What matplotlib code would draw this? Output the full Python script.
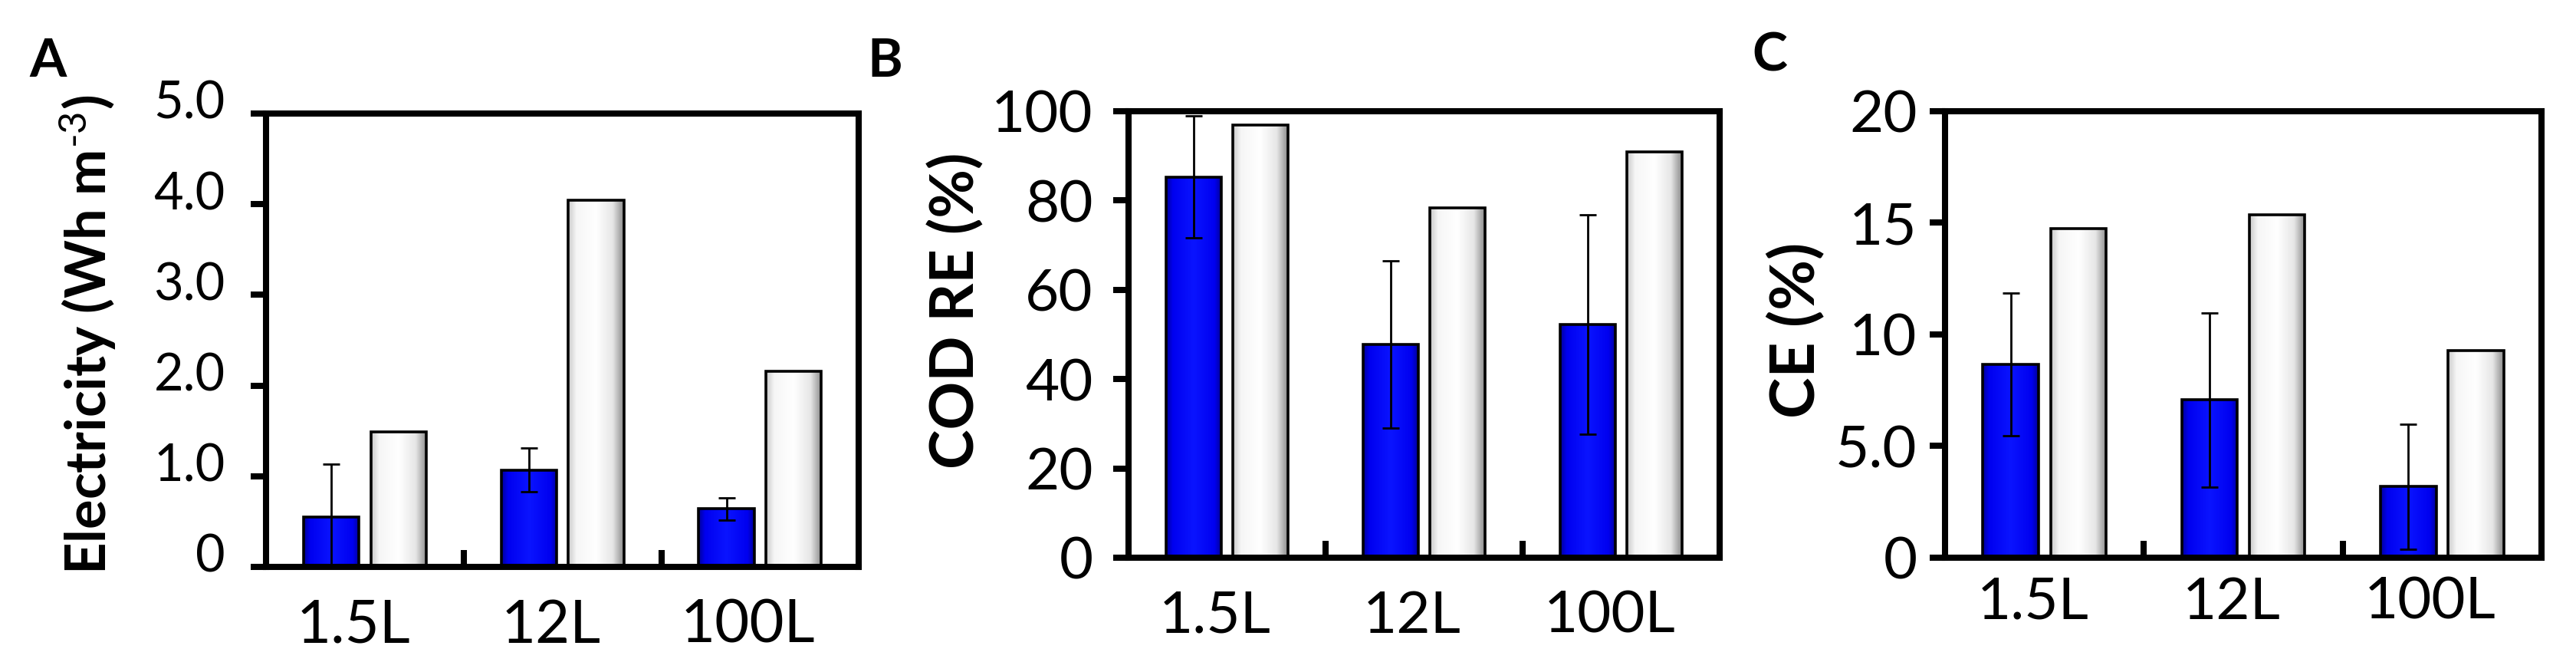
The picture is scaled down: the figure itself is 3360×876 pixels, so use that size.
"""Three-panel bar chart: electricity, COD removal and CE by reactor size."""
import numpy as np
import matplotlib

matplotlib.use("Agg")
import matplotlib.pyplot as plt  # noqa: E402
from matplotlib.colors import LinearSegmentedColormap  # noqa: E402
from matplotlib.transforms import ScaledTranslation  # noqa: E402

plt.rcParams["font.family"] = ["Lato", "DejaVu Sans"]
plt.rcParams["mathtext.fontset"] = "custom"
plt.rcParams["mathtext.rm"] = "Lato"
plt.rcParams["mathtext.bf"] = "Lato:bold"
plt.rcParams["mathtext.default"] = "regular"

sizes = ["1.5L", "12L", "100L"]

# panel A - electricity (Wh m-3)
elec_blue = [0.55, 1.07, 0.64]
elec_err = [0.58, 0.24, 0.12]
elec_white = [1.49, 4.04, 2.16]

# panel B - COD removal efficiency (%)
cod_blue = [85.3, 47.8, 52.2]
cod_err = [13.7, 18.7, 24.6]
cod_white = [96.9, 78.4, 90.9]

# panel C - coulombic efficiency (%)
ce_blue = [8.67, 7.07, 3.18]
ce_err = [3.2, 3.9, 2.8]
ce_white = [14.74, 15.36, 9.29]

BLUE_STOPS = [(0.0, "#00009a"), (0.12, "#0000f0"), (0.5, "#0a14ff"),
              (0.88, "#0000f0"), (1.0, "#00009a")]
WHITE_STOPS = [(0.0, "#c8c8c8"), (0.15, "#f6f6f6"), (0.5, "#ffffff"),
               (0.8, "#e6e6e6"), (1.0, "#8a8a8a")]


def shade(ax, bars, stops):
    cmap = LinearSegmentedColormap.from_list("shade", stops)
    grad = np.linspace(0, 1, 256).reshape(1, -1)
    for b in bars:
        x, w, h = b.get_x(), b.get_width(), b.get_height()
        im = ax.imshow(grad, cmap=cmap, extent=(x, x + w, 0, h),
                       aspect="auto", interpolation="bilinear", zorder=2.1)
        im.set_clip_path(b)


def panel(ax, blue, err, white, ylim, yticks, yticklabels, ylabel,
          tick_fs, xtick_fs, ytick_pad, xtick_pad):
    x = np.arange(len(sizes))
    w = 0.28
    bb = ax.bar(x - 0.17, blue, w, color="#0000f0", zorder=2)
    wb = ax.bar(x + 0.17, white, w, color="#f0f0f0", zorder=2)
    shade(ax, bb, BLUE_STOPS)
    shade(ax, wb, WHITE_STOPS)
    ax.bar(x - 0.17, blue, w, fill=False, edgecolor="black", linewidth=1.3, zorder=3)
    ax.bar(x + 0.17, white, w, fill=False, edgecolor="black", linewidth=1.3, zorder=3)
    ax.errorbar(x - 0.17, blue, yerr=err, fmt="none", ecolor="black",
                elinewidth=1.0, capsize=3.9, capthick=1.0, zorder=4)

    ax.set_xlim(-0.5, 2.5)
    ax.set_ylim(*ylim)
    ax.set_yticks(yticks)
    ax.set_yticklabels(yticklabels)
    ax.set_xticks(x - 0.06)
    ax.set_xticklabels(sizes)
    ax.set_xticks([0.5, 1.5], minor=True)
    ax.tick_params(axis="x", which="major", length=0, labelsize=xtick_fs, pad=xtick_pad)
    ax.tick_params(axis="x", which="minor", direction="in", length=8, width=2.9)
    ax.tick_params(axis="y", direction="out", length=7.2, width=2.9,
                   labelsize=tick_fs, pad=ytick_pad)
    for s in ax.spines.values():
        s.set_linewidth(2.9)
    ax.set_ylabel(ylabel, fontweight="bold")


fig = plt.figure(figsize=(16.8, 4.38), dpi=200)
ax_a = fig.add_axes([0.1033, 0.1564, 0.2301, 0.6747])
ax_b = fig.add_axes([0.4381, 0.1701, 0.2295, 0.6644])
ax_c = fig.add_axes([0.7551, 0.1701, 0.2315, 0.6644])

panel(ax_a, elec_blue, elec_err, elec_white, (0, 5),
      [0, 1, 2, 3, 4, 5], ["0", "1.0", "2.0", "3.0", "4.0", "5.0"],
      r"Electricity (Wh m$^{\text{-3}}$)", 24, 28, 12, 15)
panel(ax_b, cod_blue, cod_err, cod_white, (0, 100),
      [0, 20, 40, 60, 80, 100], ["0", "20", "40", "60", "80", "100"],
      "COD RE (%)", 27.5, 27.5, 9.5, 15)
panel(ax_c, ce_blue, ce_err, ce_white, (0, 20),
      [0, 5, 10, 15, 20], ["0", "5.0", "10", "15", "20"],
      "CE (%)", 27.5, 27.5, 6, 8.5)

# A's y tick labels sit a bit above their ticks in the original
shift = ScaledTranslation(0, 18 / 200, fig.dpi_scale_trans)
for lab in ax_a.get_yticklabels():
    lab.set_transform(lab.get_transform() + shift)

ax_a.yaxis.label.set_fontsize(26)
ax_b.yaxis.label.set_fontsize(28)
ax_c.yaxis.label.set_fontsize(29)
ax_a.yaxis.set_label_coords(-0.25, 0.512)
ax_b.yaxis.set_label_coords(-0.243, 0.553)
ax_c.yaxis.set_label_coords(-0.20, 0.509)

fig.text(0.0186, 0.908, "A", fontsize=25, fontweight="bold", ha="center", va="center")
fig.text(0.3435, 0.908, "B", fontsize=25, fontweight="bold", ha="center", va="center")
fig.text(0.6870, 0.917, "C", fontsize=25, fontweight="bold", ha="center", va="center")

fig.savefig("out.png", dpi=200)
plt.close(fig)
